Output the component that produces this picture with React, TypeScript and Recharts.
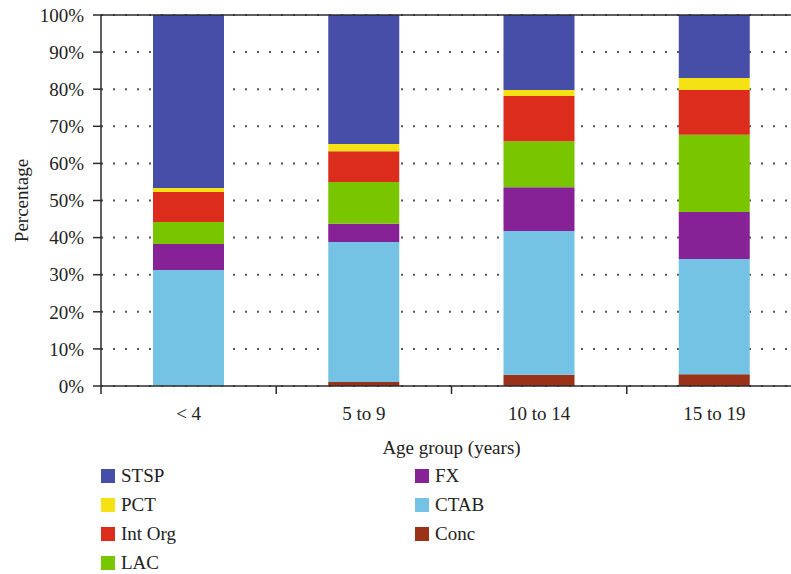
import { BarChart, Bar, XAxis, YAxis, CartesianGrid, Legend, ReferenceLine } from 'recharts';

const CATEGORIES = ['< 4', '5 to 9', '10 to 14', '15 to 19'];

// stacked bottom -> top
const CONC = [0, 1.1, 3.0, 3.2];
const CTAB = [31.3, 37.7, 38.8, 31.0];
const FX = [7.0, 4.9, 11.8, 12.7];
const LAC = [5.9, 11.3, 12.4, 20.8];
const INT_ORG = [8.1, 8.3, 12.2, 12.1];
const PCT = [1.1, 1.9, 1.6, 3.2];
const STSP = [46.6, 34.8, 20.2, 17.0];

const Y_TICKS = [0, 10, 20, 30, 40, 50, 60, 70, 80, 90, 100];

const SERIES = [
  { key: 'Conc', values: CONC, color: '#9a3219' },
  { key: 'CTAB', values: CTAB, color: '#74c3e4' },
  { key: 'FX', values: FX, color: '#862196' },
  { key: 'LAC', values: LAC, color: '#78c500' },
  { key: 'Int Org', values: INT_ORG, color: '#dc2c1c' },
  { key: 'PCT', values: PCT, color: '#f5e215' },
  { key: 'STSP', values: STSP, color: '#464ea8' },
];

const LEGEND_COLUMNS = [
  ['STSP', 'PCT', 'Int Org', 'LAC'],
  ['FX', 'CTAB', 'Conc'],
];

const data = CATEGORIES.map((name, i) => {
  const row: Record<string, any> = { name };
  SERIES.forEach((s) => (row[s.key] = s.values[i]));
  return row;
});

const FONT = '"Liberation Serif", "Times New Roman", serif';
const INK = '#222';
const AXIS = '#2b2b2b';

const WIDTH = 820;
const HEIGHT = 574;
const MARGIN = { top: 15, right: 18, left: 0, bottom: 0 };
const Y_AXIS_W = 101;
const X_AXIS_H = 74;
const LEGEND_H = 114;
const PLOT_BOTTOM = HEIGHT - X_AXIS_H - LEGEND_H;
const BAND = (WIDTH - MARGIN.right - Y_AXIS_W) / CATEGORIES.length;

function CategoryTick({ x, payload, index }: any) {
  const half = BAND / 2;
  return (
    <g>
      <line x1={x - half} x2={x - half} y1={PLOT_BOTTOM} y2={PLOT_BOTTOM + 8} stroke={AXIS} strokeWidth={1.5} />
      {index === CATEGORIES.length - 1 && (
        <line x1={x + half} x2={x + half} y1={PLOT_BOTTOM} y2={PLOT_BOTTOM + 8} stroke={AXIS} strokeWidth={1.5} />
      )}
      <text x={x} y={PLOT_BOTTOM + 34} textAnchor="middle" fill={INK} fontSize={19} fontFamily={FONT}>
        {payload.value}
      </text>
    </g>
  );
}

function LegendBox() {
  const colorOf = (k: string) => SERIES.find((s) => s.key === k)!.color;
  return (
    <div style={{ position: 'relative', width: 791, height: LEGEND_H, fontFamily: FONT, fontSize: 19, color: INK }}>
      {LEGEND_COLUMNS.map((col, ci) =>
        col.map((k, ri) => (
          <div
            key={k}
            style={{
              position: 'absolute',
              left: ci === 0 ? 101 : 415,
              top: 5 + ri * 29,
              height: 22,
              display: 'flex',
              alignItems: 'center',
              whiteSpace: 'nowrap',
            }}
          >
            <span style={{ display: 'inline-block', width: 14, height: 14, background: colorOf(k), marginRight: 6 }} />
            <span>{k}</span>
          </div>
        ))
      )}
    </div>
  );
}

export default function App() {
  return (
    <div style={{ position: 'absolute', left: 0, top: 0, width: 791, height: 574, overflow: 'hidden', background: '#fff' }}>
      <BarChart width={WIDTH} height={HEIGHT} data={data} margin={MARGIN} barSize={71}>
        <CartesianGrid vertical={false} stroke="#555" strokeWidth={2} strokeDasharray="2 10" />
        <XAxis
          dataKey="name"
          height={X_AXIS_H}
          axisLine={{ stroke: AXIS, strokeWidth: 1.5 }}
          tickLine={false}
          tick={<CategoryTick />}
          interval={0}
          label={{
            content: ({ viewBox }: any) => (
              <text
                x={viewBox.x + viewBox.width / 2}
                y={viewBox.y + 68}
                textAnchor="middle"
                fill={INK}
                fontSize={19}
                fontFamily={FONT}
              >
                Age group (years)
              </text>
            ),
          }}
        />
        <YAxis
          width={Y_AXIS_W}
          domain={[0, 100]}
          ticks={Y_TICKS}
          interval={0}
          tickFormatter={(v) => `${v}%`}
          tickSize={8}
          tickMargin={9}
          axisLine={{ stroke: AXIS, strokeWidth: 1.5 }}
          tickLine={{ stroke: AXIS, strokeWidth: 1.5 }}
          tick={{ fill: INK, fontSize: 19, fontFamily: FONT }}
          label={{
            content: ({ viewBox }: any) => {
              const cx = viewBox.x + 28;
              const cy = viewBox.y + viewBox.height / 2;
              return (
                <text
                  x={cx}
                  y={cy}
                  transform={`rotate(-90, ${cx}, ${cy})`}
                  textAnchor="middle"
                  fill={INK}
                  fontSize={19}
                  fontFamily={FONT}
                >
                  Percentage
                </text>
              );
            },
          }}
        />
        {SERIES.map((s) => (
          <Bar key={s.key} dataKey={s.key} stackId="a" fill={s.color} isAnimationActive={false} />
        ))}
        <ReferenceLine y={100} stroke={AXIS} strokeWidth={1.5} />
        <Legend
          verticalAlign="bottom"
          content={() => <LegendBox />}
          wrapperStyle={{ left: 0, bottom: 0, width: 791, height: LEGEND_H }}
        />
      </BarChart>
    </div>
  );
}
